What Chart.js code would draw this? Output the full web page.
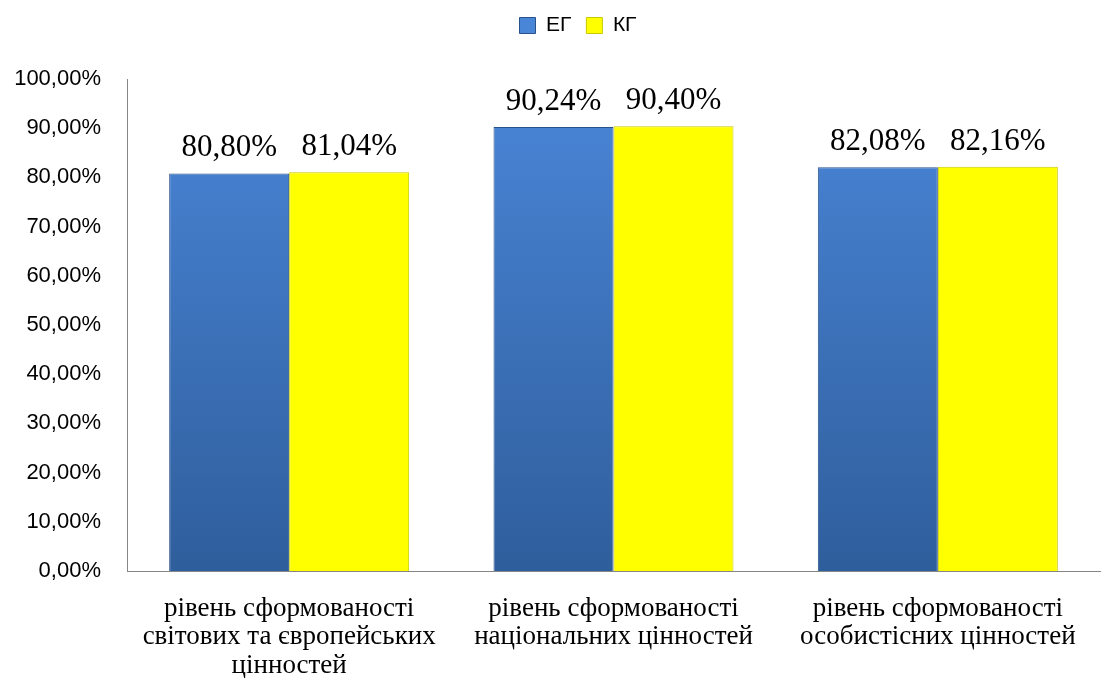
<!DOCTYPE html>
<html>
<head>
<meta charset="utf-8">
<script src="https://cdn.jsdelivr.net/npm/chart.js@4/dist/chart.umd.min.js"></script>
<style>
  html, body { margin: 0; padding: 0; background: #fff; }
  canvas { display: block; }
</style>
</head>
<body>
<canvas id="chart" width="1103" height="678"></canvas>
<script>
// data
const categories = [
  ['рівень сформованості', 'світових та європейських', 'цінностей'],
  ['рівень сформованості', 'національних цінностей'],
  ['рівень сформованості', 'особистісних цінностей']
];
const seriesNames = ['ЕГ', 'КГ'];
const egValues = [80.80, 90.24, 82.08];
const kgValues = [81.04, 90.40, 82.16];
const yTicks = [0, 10, 20, 30, 40, 50, 60, 70, 80, 90, 100];

const fmt = v => v.toFixed(2).replace('.', ',') + '%';
const sans = '"Liberation Sans", Arial, sans-serif';
const narrow = '"Liberation Sans Narrow", "Liberation Sans", Arial, sans-serif';
const serif = '"Liberation Serif", "Times New Roman", serif';

// blue bars get a vertical gradient like the office bevel
function blueFill(context) {
  const chart = context.chart;
  const area = chart.chartArea;
  if (!area) return '#3f74bf';
  const g = chart.ctx.createLinearGradient(0, area.top, 0, area.bottom);
  g.addColorStop(0, '#4a86d8');
  g.addColorStop(1, '#2f5e9c');
  return g;
}

// value labels above bars
const valueLabels = {
  id: 'valueLabels',
  afterDatasetsDraw(chart) {
    const ctx = chart.ctx;
    ctx.save();
    ctx.font = '31px ' + serif;
    ctx.fillStyle = '#000';
    ctx.textAlign = 'center';
    ctx.textBaseline = 'alphabetic';
    chart.data.datasets.forEach((ds, i) => {
      chart.getDatasetMeta(i).data.forEach((bar, j) => {
        ctx.fillText(fmt(ds.data[j]), bar.x, bar.y - 17);
      });
    });
    ctx.restore();
  }
};

// make room under the legend and nudge it right, like the original
const legendSpace = {
  id: 'legendSpace',
  beforeInit(chart) {
    const legend = chart.legend;
    const fit = legend.fit;
    legend.fit = function () {
      fit.call(this);
      this.height = 79;
    };
    const draw = legend.draw;
    legend.draw = function () {
      const ctx = this.ctx;
      ctx.save();
      ctx.translate(28, 0);
      draw.apply(this, arguments);
      ctx.restore();
    };
  }
};

new Chart(document.getElementById('chart'), {
  type: 'bar',
  data: {
    labels: categories,
    datasets: [
      {
        label: seriesNames[0],
        data: egValues,
        backgroundColor: blueFill,
        borderColor: '#2a528a',
        borderWidth: 1
      },
      {
        label: seriesNames[1],
        data: kgValues,
        backgroundColor: '#ffff00',
        borderColor: '#c9c900',
        borderWidth: 1
      }
    ]
  },
  options: {
    responsive: false,
    animation: false,
    devicePixelRatio: 1,
    layout: { padding: { top: 0, right: 3, bottom: 0, left: 0 } },
    datasets: {
      bar: { categoryPercentage: 0.74, barPercentage: 1.0 }
    },
    scales: {
      y: {
        min: 0,
        max: 100,
        afterBuildTicks: axis => { axis.ticks = yTicks.map(v => ({ value: v })); },
        afterFit: axis => { axis.width = 127; },
        grid: { display: false, drawTicks: false },
        border: { display: true, color: '#868686', width: 1 },
        ticks: {
          padding: 26,
          color: '#000',
          font: { family: sans, size: 22 },
          callback: v => fmt(v)
        }
      },
      x: {
        afterFit: axis => { axis.height = 107; },
        grid: { display: false, drawTicks: false },
        border: { display: true, color: '#868686', width: 1 },
        ticks: {
          padding: 23,
          color: '#000',
          maxRotation: 0,
          autoSkip: false,
          font: { family: serif, size: 27, lineHeight: 1.07 }
        }
      }
    },
    plugins: {
      legend: {
        position: 'top',
        align: 'center',
        labels: {
          boxWidth: 16,
          boxHeight: 16,
          padding: 15,
          color: '#000',
          font: { family: narrow, size: 21 }
        }
      },
      tooltip: { enabled: false }
    }
  },
  plugins: [valueLabels, legendSpace]
});
</script>
</body>
</html>
